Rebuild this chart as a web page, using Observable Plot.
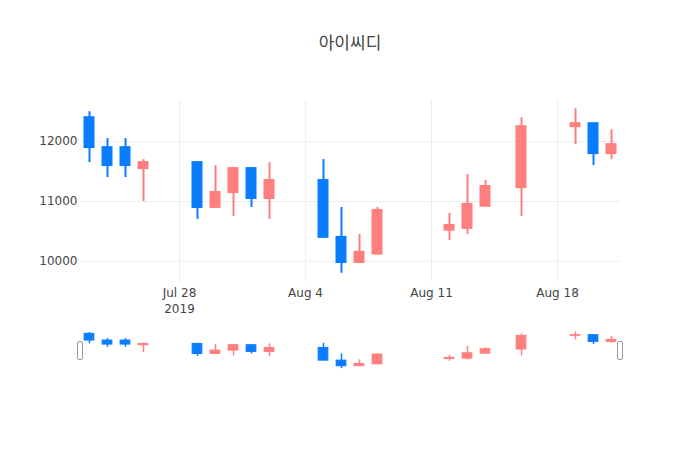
<!DOCTYPE html>
<html>
<head>
<meta charset="utf-8">
<script src="https://cdn.jsdelivr.net/npm/d3@7"></script>
<script src="https://cdn.jsdelivr.net/npm/@observablehq/plot@0.6"></script>
<style>
  html, body { margin: 0; padding: 0; background: #fff; }
  #wrap { width: 700px; height: 450px; position: relative; font-family: "DejaVu Sans", Verdana, sans-serif; }
  #title { height: 100px; position: relative; }
  #title span { position: absolute; left: 0; width: 700px; top: 31px; line-height: 22px; text-align: center;
    font-family: "Noto Sans CJK KR", "DejaVu Sans", sans-serif; font-size: 17px; color: #444; }
  #slider { margin-top: -20px; }
  svg { display: block; }
</style>
</head>
<body>
<div id="wrap">
  <div id="title"><span>아이씨디</span></div>
  <div id="main"></div>
  <div id="slider"></div>
</div>
<script>
// ---- data ----
const dates = ["2019-07-23","2019-07-24","2019-07-25","2019-07-26","2019-07-29","2019-07-30","2019-07-31",
  "2019-08-01","2019-08-02","2019-08-05","2019-08-06","2019-08-07","2019-08-08","2019-08-12",
  "2019-08-13","2019-08-14","2019-08-16","2019-08-19","2019-08-20","2019-08-21"];
const openV  = [12400, 11900, 11900, 11550, 11650, 10900, 11150, 11550, 11050, 11350, 10400, 9980, 10120, 10520, 10550, 10920, 11230, 12250, 12300, 11800];
const highV  = [12500, 12050, 12050, 11700, 11650, 11600, 11550, 11550, 11650, 11700, 10900, 10450, 10900, 10800, 11450, 11350, 12400, 12550, 12300, 12200];
const lowV   = [11650, 11400, 11400, 11000, 10700, 10900, 10750, 10900, 10700, 10400, 9800, 9980, 10120, 10350, 10450, 10920, 10750, 11950, 11600, 11700];
const closeV = [11900, 11600, 11600, 11650, 10900, 11150, 11550, 11050, 11350, 10400, 9980, 10150, 10850, 10600, 10950, 11250, 12250, 12300, 11800, 11950];

const xTickDates = ["2019-07-28","2019-08-04","2019-08-11","2019-08-18"];
const xTickLabels = ["Jul 28\n2019","Aug 4","Aug 11","Aug 18"];
const yTicks = [10000, 11000, 12000];

const upColor = "#ff7f7f";
const downColor = "#0a7cff";

// ---- build table ----
const DAY = 864e5;
const rows = dates.map((d, i) => ({
  date: new Date(d + "T00:00:00Z"),
  open: openV[i], high: highV[i], low: lowV[i], close: closeV[i],
  color: closeV[i] >= openV[i] ? upColor : downColor
}));
const xDomain = [new Date(+rows[0].date - DAY / 2), new Date(+rows[rows.length - 1].date + DAY / 2)];
const lo = d3.min(lowV), hi = d3.max(highV), pad = (hi - lo) * 0.05;
const yDomain = [lo - pad, hi + pad];
const tickDates = xTickDates.map(d => new Date(d + "T00:00:00Z"));
const labelOf = new Map(tickDates.map((d, i) => [+d, xTickLabels[i]]));

const style = { fontFamily: "'DejaVu Sans', Verdana, sans-serif", fontSize: "12px", color: "#444", background: "transparent" };

const main = Plot.plot({
  width: 700, height: 233,
  marginTop: 0, marginBottom: 52, marginLeft: 80, marginRight: 80,
  style,
  x: { type: "utc", domain: xDomain },
  y: { domain: yDomain },
  color: { type: "identity" },
  marks: [
    Plot.gridX(tickDates, { stroke: "#eee", strokeOpacity: 1, strokeWidth: 1 }),
    Plot.gridY(yTicks, { stroke: "#eee", strokeOpacity: 1, strokeWidth: 1 }),
    Plot.ruleX(rows, { x: "date", y1: "low", y2: "high", stroke: "color", strokeWidth: 2 }),
    Plot.rect(rows, {
      x1: d => new Date(+d.date - DAY * 0.25), x2: d => new Date(+d.date + DAY * 0.25),
      y1: "open", y2: "close", fill: "color", stroke: "color", strokeWidth: 2
    }),
    Plot.axisX(tickDates, { tickSize: 0, tickPadding: 5, label: null, fontSize: 12, lineHeight: 1.28,
      tickFormat: d => labelOf.get(+d) }),
    Plot.axisY(yTicks, { tickSize: 0, tickPadding: 3, label: null, fontSize: 12, tickFormat: d3.format("d") })
  ]
});
document.getElementById("main").appendChild(main);

const slider = Plot.plot({
  width: 700, height: 137,
  marginTop: 16.5, marginBottom: 80, marginLeft: 80, marginRight: 80,
  style,
  x: { type: "utc", domain: xDomain, axis: null },
  y: { domain: yDomain, axis: null },
  color: { type: "identity" },
  marks: [
    Plot.ruleX(rows, { x: "date", y1: "low", y2: "high", stroke: "color", strokeWidth: 1.5 }),
    Plot.rect(rows, {
      x1: d => new Date(+d.date - DAY * 0.27), x2: d => new Date(+d.date + DAY * 0.27),
      y1: "open", y2: "close", fill: "color", stroke: "color", strokeWidth: 1
    }),
    Plot.rect(xDomain, { x1: d => d, x2: d => d, insetLeft: -2.5, insetRight: -2.5, insetTop: 12, insetBottom: 10.5,
      fill: "#fff", stroke: "#999", strokeWidth: 1, rx: 1.5 })
  ]
});
document.getElementById("slider").appendChild(slider);
</script>
</body>
</html>
